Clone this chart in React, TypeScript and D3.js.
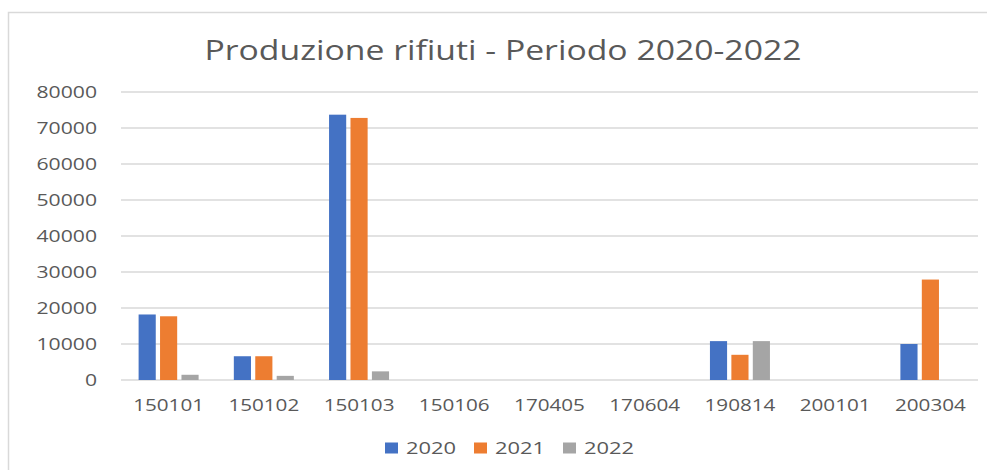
import * as d3 from "d3";

const categories = ["150101", "150102", "150103", "150106", "170405", "170604", "190814", "200101", "200304"];
const series = ["2020", "2021", "2022"];
const values2020 = [18200, 6600, 73700, 0, 0, 0, 10800, 0, 10000];
const values2021 = [17700, 6600, 72800, 0, 0, 0, 7000, 0, 27900];
const values2022 = [1450, 1150, 2400, 0, 0, 0, 10800, 0, 0];
const yTicks = [0, 10000, 20000, 30000, 40000, 50000, 60000, 70000, 80000];
const colors = ["#4472C4", "#ED7D31", "#A5A5A5"];
const title = "Produzione rifiuti - Periodo 2020-2022";

const width = 987;
const height = 470;
const plotLeft = 121;
const plotRight = 978;
const plotTop = 92;
const plotBottom = 380;
const textColor = "#595959";
const font = "'Open Sans', 'Noto Sans', sans-serif";
const digitW = 12.1; // the source picture is stretched sideways

export default function App() {
    const table = [values2020, values2021, values2022];
    const x = d3.scaleBand(categories, [plotLeft, plotRight]);
    const groupW = 60;
    const x1 = d3.scaleBand(series, [0, groupW]).paddingInner(0.2);
    const y = d3.scaleLinear([0, 80000], [plotBottom, plotTop]);

    const legendX = d3.scaleBand(series, [385, 652]);

    return (
        <svg width={width} height={height} style={{ position: "absolute", left: 0, top: 0, background: "#fff" }}
            fontFamily={font}>
            <rect x={8.5} y={12.5} width={1000} height={500} fill="#fff" stroke="#D9D9D9" strokeWidth={1.5} />
            <text x={503} y={60} fontSize={28} fill={textColor} textAnchor="middle"
                textLength={597} lengthAdjust="spacingAndGlyphs">{title}</text>

            {/* grid + y labels */}
            {yTicks.map(t => (
                <g key={t}>
                    <line x1={plotLeft} x2={plotRight} y1={y(t)} y2={y(t)} stroke="#D9D9D9" strokeWidth={1.5} />
                    <text x={97} y={y(t) + 5.5} fontSize={16} fill={textColor} textAnchor="end"
                        textLength={String(t).length * digitW} lengthAdjust="spacingAndGlyphs">{t}</text>
                </g>
            ))}

            {/* bars */}
            {categories.map((c, i) => {
                const x0 = x(c)! + (x.bandwidth() - groupW) / 2;
                return (
                    <g key={c}>
                        {series.map((s, j) => {
                            const v = table[j][i];
                            if (!v) return null;
                            return (
                                <rect key={s} x={x0 + x1(s)!} y={y(v)} width={x1.bandwidth()}
                                    height={y(0) - y(v)} fill={colors[j]} />
                            );
                        })}
                        <text x={x(c)! + x.bandwidth() / 2} y={411} fontSize={16} fill={textColor}
                            textAnchor="middle" textLength={c.length * 11.8} lengthAdjust="spacingAndGlyphs">{c}</text>
                    </g>
                );
            })}

            {/* legend */}
            {series.map((s, j) => (
                <g key={s} transform={`translate(${legendX(s)},0)`}>
                    <rect x={0} y={442.5} width={13} height={11} fill={colors[j]} />
                    <text x={21} y={454} fontSize={16} fill={textColor}
                        textLength={50} lengthAdjust="spacingAndGlyphs">{s}</text>
                </g>
            ))}
        </svg>
    );
}
